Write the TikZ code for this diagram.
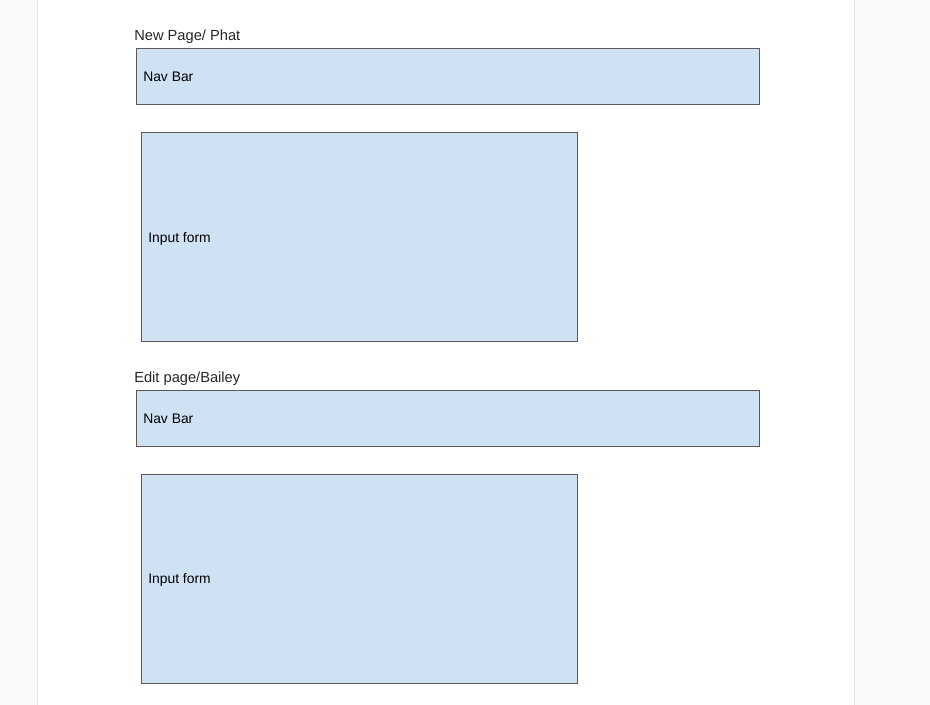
\documentclass[tikz,border=0pt]{standalone}
\usepackage{fontspec}
\setmainfont{Liberation Sans}
\definecolor{bgc}{HTML}{F8F9FA}
\definecolor{edge}{HTML}{E6E8EA}
\definecolor{boxfill}{HTML}{CFE2F3}
\definecolor{boxline}{HTML}{595959}
\begin{document}
\begin{tikzpicture}[x=0.75pt,y=-0.75pt,
  wbox/.style={draw=boxline,fill=boxfill,line width=0.75pt},
  boxlabel/.style={anchor=west,inner sep=0pt,font=\fontsize{10.4pt}{12pt}\selectfont},
  title/.style={anchor=base west,inner sep=0pt,font=\fontsize{11pt}{13pt}\selectfont,text=black!85}]
\fill[bgc] (0,0) rectangle (930,705);
\useasboundingbox (0,0) rectangle (930,705);
\fill[white] (38,0) rectangle (854,705);
\draw[edge,line width=1pt] (37.5,0) -- (37.5,705);
\draw[edge,line width=1pt] (854.5,0) -- (854.5,705);
% page 1
\node[title] (t1) at (134,41) {New Page/ Phat};
\draw[wbox] (136.5,48.5) rectangle (759.5,104.5);
\node[boxlabel] (n1) at (143,77) {Nav Bar};
\draw[wbox] (141.5,132.5) rectangle (577.5,341.5);
\node[boxlabel] (f1) at (148,238.5) {Input form};
% page 2
\node[title] (t2) at (134,382) {Edit page/Bailey};
\draw[wbox] (136.5,390) rectangle (759.5,446);
\node[boxlabel] (n2) at (143,419) {Nav Bar};
\draw[wbox] (141.5,474) rectangle (577.5,683.5);
\node[boxlabel] (f2) at (148,580) {Input form};
\end{tikzpicture}
\end{document}
